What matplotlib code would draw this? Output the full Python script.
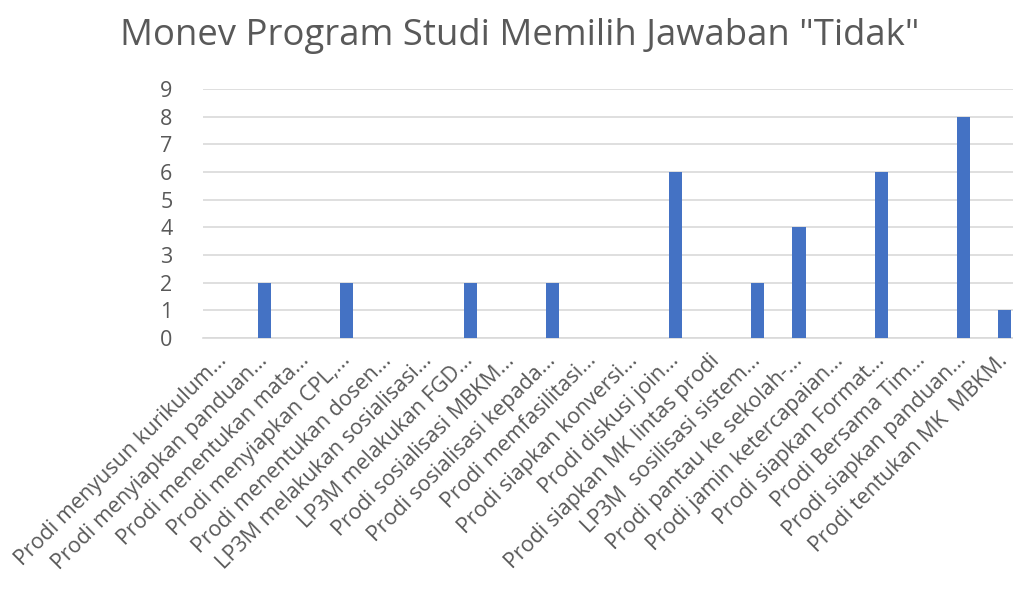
import numpy as np
import matplotlib.pyplot as plt

plt.rcParams['font.family'] = ['Open Sans', 'DejaVu Sans']

# data
categories = [
    'Prodi menyusun kurikulum...',
    'Prodi menyiapkan panduan...',
    'Prodi menentukan mata...',
    'Prodi menyiapkan CPL,...',
    'Prodi menentukan dosen...',
    'LP3M melakukan sosialisasi...',
    'LP3M melakukan FGD...',
    'Prodi sosialisasi MBKM...',
    'Prodi sosialisasi kepada...',
    'Prodi memfasilitasi...',
    'Prodi siapkan konversi...',
    'Prodi diskusi join...',
    'Prodi siapkan MK lintas prodi',
    'LP3M  sosilisasi sistem...',
    'Prodi pantau ke sekolah-...',
    'Prodi jamin ketercapaian...',
    'Prodi siapkan Format...',
    'Prodi Bersama Tim...',
    'Prodi siapkan panduan...',
    'Prodi tentukan MK  MBKM.',
]
values = [0, 2, 0, 2, 0, 0, 2, 0, 2, 0, 0, 6, 0, 2, 4, 0, 6, 0, 8, 1]
yticks = list(range(0, 10))
title = 'Monev Program Studi Memilih Jawaban "Tidak"'

text_col = '#595959'
grid_col = '#D9D9D9'

fig = plt.figure(figsize=(10.13, 5.94), dpi=100)
ax = fig.add_axes([0.2004, 0.431, 0.8115, 0.419])

x = np.arange(len(categories))
ax.bar(x, values, width=0.32, color='#4472C4', zorder=3)

ax.set_xlim(-0.5, len(categories) - 0.5)
ax.set_ylim(0, 9)
ax.set_yticks(yticks)
ax.yaxis.grid(True, color=grid_col, linewidth=1.2, zorder=0)
for s in ['top', 'right', 'left']:
    ax.spines[s].set_visible(False)
ax.spines['bottom'].set_color(grid_col)
ax.spines['bottom'].set_linewidth(1.2)

# rotated category labels, end of text near the tick
ax.set_xticks(x)
ax.set_xticklabels(categories, rotation=45, ha='right', va='center',
                   rotation_mode='anchor', fontsize=15.5, color=text_col)
ax.tick_params(axis='x', length=0, pad=14)
ax.tick_params(axis='y', length=0, pad=22, labelsize=15.5, labelcolor=text_col)

fig.text(0.513, 0.94, title, ha='center', va='center', fontsize=26.3, color=text_col)

fig.savefig('out.png', dpi=100)
